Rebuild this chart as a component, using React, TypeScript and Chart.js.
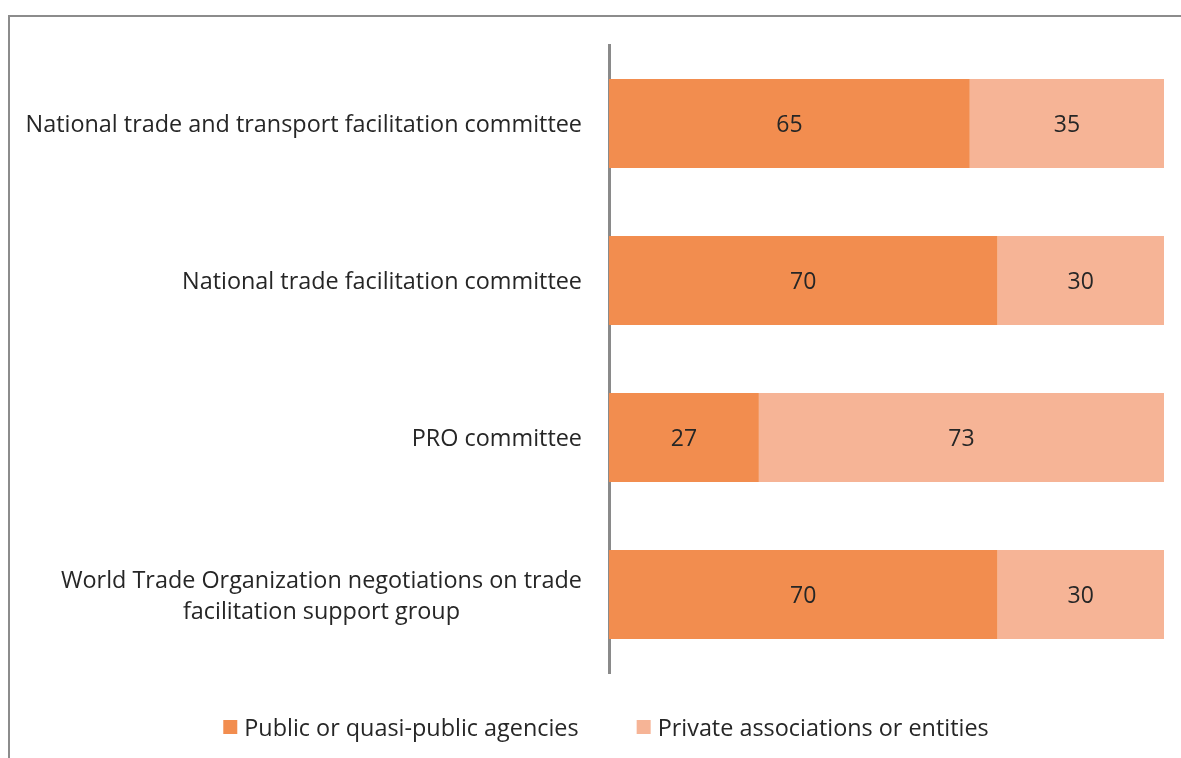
import React, { useEffect, useRef } from "react";
import { Chart, registerables } from "chart.js";

Chart.register(...registerables);

const categories: string[][] = [
  ["National trade and transport facilitation committee"],
  ["National trade facilitation committee"],
  ["PRO committee"],
  ["World Trade Organization negotiations on trade", "facilitation support group"],
];
const publicValues = [65, 70, 27, 70];
const privateValues = [35, 30, 73, 30];
const seriesNames = ["Public or quasi-public agencies", "Private associations or entities"];
const seriesColors = ["#F28D4F", "#F6B496"];

const FONT = "'Open Sans', Lato, sans-serif";
const TEXT_COLOR = "#262626";
const FONT_SIZE = 23.4;
const DY = 2;

const labelPlugin = {
  id: "customLabels",
  afterDatasetsDraw(chart: any) {
    const ctx = chart.ctx;
    const yScale = chart.scales.y;
    const area = chart.chartArea;
    ctx.save();
    ctx.fillStyle = TEXT_COLOR;
    // category labels
    ctx.font = `${FONT_SIZE}px ${FONT}`;
    ctx.textBaseline = "middle";
    ctx.textAlign = "center";
    const lineH = 31;
    categories.forEach((lines, i) => {
      const y = yScale.getPixelForValue(i);
      const maxW = Math.max(...lines.map((l) => ctx.measureText(l).width));
      const right = area.left - 27;
      const cx = right - maxW / 2;
      const startY = y - ((lines.length - 1) * lineH) / 2 + DY;
      lines.forEach((l, j) => ctx.fillText(l, cx, startY + j * lineH));
    });
    // data labels
    ctx.font = `23px ${FONT}`;
    chart.data.datasets.forEach((ds: any, di: number) => {
      const meta = chart.getDatasetMeta(di);
      meta.data.forEach((bar: any, i: number) => {
        const v = ds.data[i];
        const x = (bar.x + bar.base) / 2;
        ctx.fillText(String(v), x, bar.y + DY);
      });
    });
    // legend
    ctx.font = `${FONT_SIZE}px ${FONT}`;
    ctx.textAlign = "left";
    const box = 14;
    const gapBoxText = 7;
    const gapItems = 58;
    const widths = seriesNames.map((n) => box + gapBoxText + ctx.measureText(n).width);
    const total = widths.reduce((a, b) => a + b, 0) + gapItems * (widths.length - 1);
    const centerX = 606;
    const ly = 727;
    let x = centerX - total / 2;
    seriesNames.forEach((n, i) => {
      ctx.fillStyle = seriesColors[i];
      ctx.fillRect(x, ly - box / 2, box, box);
      ctx.fillStyle = TEXT_COLOR;
      ctx.fillText(n, x + box + gapBoxText, ly + DY);
      x += widths[i] + gapItems;
    });
    ctx.restore();
  },
};

export default function App() {
  const ref = useRef<HTMLCanvasElement>(null);
  useEffect(() => {
    if (!ref.current) return;
    const chart = new Chart(ref.current, {
      type: "bar",
      data: {
        labels: categories.map((c) => c.join(" ")),
        datasets: [
          {
            label: seriesNames[0],
            data: publicValues,
            backgroundColor: seriesColors[0],
            barPercentage: 0.568,
            categoryPercentage: 1,
          },
          {
            label: seriesNames[1],
            data: privateValues,
            backgroundColor: seriesColors[1],
            barPercentage: 0.568,
            categoryPercentage: 1,
          },
        ],
      },
      options: {
        indexAxis: "y",
        responsive: false,
        animation: false,
        layout: { padding: { left: 609, right: 17, top: 45, bottom: 85 } },
        plugins: { legend: { display: false }, tooltip: { enabled: false } },
        scales: {
          x: { stacked: true, min: 0, max: 100, display: false },
          y: {
            stacked: true,
            grid: { display: false, drawTicks: false },
            ticks: { display: false },
            border: { display: true, color: "#8a8a8a", width: 3 },
            afterFit: (s: any) => {
              s.width = 0;
            },
          },
        },
      } as any,
      plugins: [labelPlugin],
    });
    return () => chart.destroy();
  }, []);
  return (
    <div style={{ position: "absolute", left: 0, top: 0, width: 1181, height: 758, overflow: "hidden", background: "#fff" }}>
      <div
        style={{
          position: "absolute",
          left: 8,
          top: 15,
          width: 1300,
          height: 900,
          borderTop: "2px solid #8c8c8c",
          borderLeft: "2px solid #8c8c8c",
        }}
      />
      <canvas ref={ref} width={1181} height={758} style={{ position: "absolute", left: 0, top: 0 }} />
    </div>
  );
}
